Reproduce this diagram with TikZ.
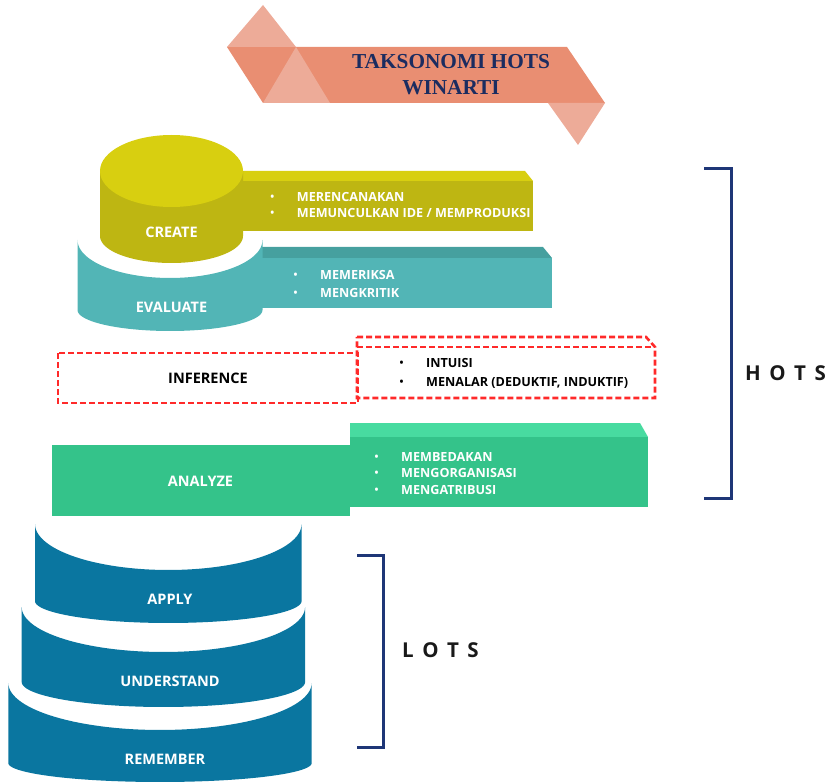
\documentclass[tikz,border=0pt]{standalone}
\usepackage{fontspec}
\setmainfont{Open Sans}
\newfontfamily\titlefont{Liberation Serif}
\usetikzlibrary{calc}

\definecolor{bannerdark}{HTML}{E98E72}
\definecolor{bannerlight}{HTML}{EDAB98}
\definecolor{titleblue}{HTML}{1B2C60}
\definecolor{createtop}{HTML}{D8CF10}
\definecolor{createside}{HTML}{BEB612}
\definecolor{evalside}{HTML}{52B5B6}
\definecolor{evaltop}{HTML}{46A09F}
\definecolor{anaside}{HTML}{34C38A}
\definecolor{anatop}{HTML}{48DBA0}
\definecolor{lotsblue}{HTML}{0A76A0}
\definecolor{bracketblue}{HTML}{1E3677}
\definecolor{dashred}{HTML}{FF2A2A}

\newcommand{\bul}{\makebox[26.5pt][l]{\fontsize{10.5}{10}\selectfont\raisebox{1pt}{•}}}

% cylinder side seen from above: #1 centre x, #2 half width,
% #3/#4 centre y and depth of the upper (hollow) rim, #5/#6 the same for the lower rim
\newcommand{\drumside}[7]{%
  \fill[#7] ({#1-#2},#3)
    -- plot[domain=180:360, samples=60] ({#1+#2*cos(\x)},{#3-#4*sin(\x)})
    -- plot[domain=0:-180, samples=60] ({#1+#2*cos(\x)},{#5-#6*sin(\x)})
    -- cycle;}

\tikzset{
  lvl/.style={font=\fontsize{14.5}{16}\selectfont\bfseries, text=white, inner sep=0pt},
  lvldark/.style={lvl, text=black},
  item/.style={anchor=base west, font=\fontsize{12.6}{14}\selectfont\bfseries, text=white, inner sep=0pt},
  itemdark/.style={item, text=black},
  titletext/.style={font=\titlefont\fontsize{21.3}{24}\selectfont\bfseries, text=titleblue, inner sep=0pt},
  bracket/.style={draw=bracketblue, line width=3pt},
  side/.style={font=\fontsize{20.5}{22}\selectfont\bfseries, text=black!90, anchor=west, inner sep=0pt},
  dashbox/.style={draw=dashred, line width=2.6pt, dash pattern=on 6pt off 3pt},
}

\begin{document}
\begin{tikzpicture}[x=1pt, y=-1pt]
\useasboundingbox (0,0) rectangle (832,783);

% ---- title ribbon ----
\fill[bannerdark] (227,47) -- (567,47) -- (605,103) -- (263,103) -- cycle;
\fill[bannerlight] (227,47) -- (263,5) -- (296,47) -- cycle;
\fill[bannerlight] (296,47) -- (330,103) -- (263,103) -- cycle;
\fill[bannerlight] (548,103) -- (605,103) -- (578,145) -- cycle;
\node[titletext] (title1) at (451,61.5) {TAKSONOMI HOTS};
\node[titletext] (title2) at (451,87.5) {WINARTI};

% ---- EVALUATE ----
\fill[evaltop] (262,247) -- (543,247) -- (552,258) -- (262,258) -- cycle;
\fill[evalside] (262,258) rectangle (552,308);
\drumside{170}{92.5}{240}{38}{310}{21}{evalside}
\node[lvl] (evaluate) at (171.5,307) {EVALUATE};
\node[item] (e1) at (293.5,279.5) {\bul MEMERIKSA};
\node[item] (e2) at (293.5,297.2) {\bul MENGKRITIK};

% ---- CREATE ----
\fill[createtop] (243,171) -- (525,171) -- (533,181) -- (243,181) -- cycle;
\fill[createside] (243,181) rectangle (533,231);
\fill[createside] (100,171) -- (100,236)
  -- plot[domain=180:360, samples=60] ({171.5+71.5*cos(\x)},{236-27*sin(\x)})
  -- (243,171) -- cycle;
\fill[createtop] (171.5,171) ellipse[x radius=71.5pt, y radius=36pt];
\node[lvl] (create) at (171.5,232) {CREATE};
\node[item] (c1) at (270.2,201.2) {\bul MERENCANAKAN};
\node[item] (c2) at (270.2,217.8) {\bul MEMUNCULKAN IDE / MEMPRODUKSI};

% ---- INFERENCE ----
\draw[dashbox] (58,353) rectangle (358,403);
\draw[dashbox] (357,337) -- (646,337) -- (655,347) -- (655,398) -- (357,398) -- cycle;
\draw[dashbox] (357,347) -- (655,347);
\node[lvldark] (inference) at (208,378.5) {INFERENCE};
\node[itemdark] (i1) at (399.5,367.8) {\bul INTUISI};
\node[itemdark] (i2) at (399.5,386.2) {\bul MENALAR (DEDUKTIF, INDUKTIF)};

% ---- ANALYZE ----
\fill[anaside] (52,445) rectangle (350,516);
\fill[anatop] (350,423) -- (640,423) -- (648,437) -- (350,437) -- cycle;
\fill[anaside] (350,437) rectangle (648,507);
\node[lvl] (analyze) at (200.5,481.7) {ANALYZE};
\node[item] (a1) at (374.5,461.2) {\bul MEMBEDAKAN};
\node[item] (a2) at (374.5,477.8) {\bul MENGORGANISASI};
\node[item] (a3) at (374.5,494.5) {\bul MENGATRIBUSI};

% ---- lower-order stack ----
\drumside{160}{151.7}{683}{47}{763}{19}{lotsblue}
\node[lvl] (remember) at (165,759) {REMEMBER};
\drumside{163.4}{141.7}{607}{45}{682}{25}{lotsblue}
\node[lvl] (understand) at (170,681) {UNDERSTAND};
\drumside{168.3}{133.3}{524}{46}{601}{22}{lotsblue}
\node[lvl] (apply) at (170,599) {APPLY};

% ---- brackets ----
\draw[bracket] (704,169) -- (731,169) -- (731,498) -- (704,498);
\node[side] (hots) at (745,373) {H\kern8.5pt O\kern8.5pt T\kern8.5pt S};
\draw[bracket] (357,555) -- (383,555) -- (383,747) -- (357,747);
\node[side] (lots) at (402,650) {L\kern8.5pt O\kern8.5pt T\kern8.5pt S};
\end{tikzpicture}
\end{document}
